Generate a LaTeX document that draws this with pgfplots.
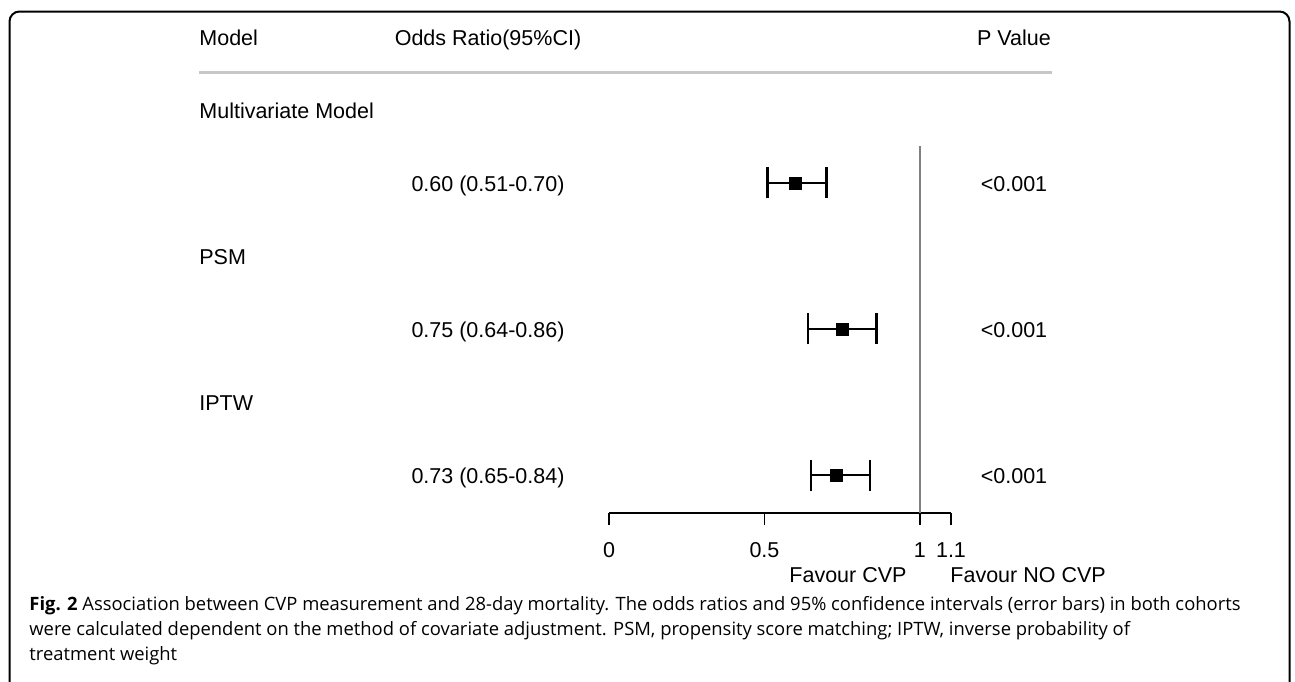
\documentclass[border=0pt]{standalone}
\usepackage{fontspec}
\setmainfont{Liberation Sans}
\newfontfamily\capfont{Open Sans}
\usepackage{pgfplots}
\usepackage{pgfplotstable}
\pgfplotsset{compat=1.18}

\pgfplotstableread{
y or em ep
3 0.60 0.09 0.10
2 0.75 0.11 0.11
1 0.73 0.08 0.11
}\ordata

\newcommand\tf{\fontsize{10.75}{13}\selectfont}
\newcommand\cf{\capfont\fontsize{9.2}{11}\selectfont}

\begin{document}
\begin{tikzpicture}[x=0.5pt,y=-0.5pt]
\useasboundingbox (0,0) rectangle (1295,681);
\clip (0,0) rectangle (1295,681);
\fill[white] (0,0) rectangle (1295,681);
\draw[line width=1pt, rounded corners=5pt] (9.5,11.5) rectangle (1289.5,720);

% header
\node[anchor=base west, inner sep=0, font=\tf] at (199,45) {Model};
\node[anchor=base, inner sep=0, font=\tf] at (488,45) {Odds Ratio(95\%CI)};
\node[anchor=base, inner sep=0, font=\tf] at (1014,45) {P Value};
\draw[black!22, line width=1.65pt] (199,72.7) -- (1052,72.7);

% group labels
\node[anchor=base west, inner sep=0, font=\tf] at (199,118) {Multivariate Model};
\node[anchor=base west, inner sep=0, font=\tf] at (199,264) {PSM};
\node[anchor=base west, inner sep=0, font=\tf] at (199,410) {IPTW};

% estimates
\node[anchor=base, inner sep=0, font=\tf] at (488,191) {0.60 (0.51-0.70)};
\node[anchor=base, inner sep=0, font=\tf] at (488,337) {0.75 (0.64-0.86)};
\node[anchor=base, inner sep=0, font=\tf] at (488,483) {0.73 (0.65-0.84)};

% p values
\node[anchor=base, inner sep=0, font=\tf] at (1014,191) {<0.001};
\node[anchor=base, inner sep=0, font=\tf] at (1014,337) {<0.001};
\node[anchor=base, inner sep=0, font=\tf] at (1014,483) {<0.001};

% favour labels
\node[anchor=base west, inner sep=0, font=\tf] at (789,582) {Favour CVP};
\node[anchor=base west, inner sep=0, font=\tf] at (950,582) {Favour NO CVP};

% caption
\node[anchor=base west, inner sep=0, font=\cf] at (29,610) {\textbf{Fig. 2} Association between CVP measurement and 28-day mortality. The odds ratios and 95\% confidence intervals (error bars) in both cohorts};
\node[anchor=base west, inner sep=0, font=\cf] at (29,635) {were calculated dependent on the method of covariate adjustment. PSM, propensity score matching; IPTW, inverse probability of};
\node[anchor=base west, inner sep=0, font=\cf] at (29,660) {treatment weight};

\begin{axis}[
  at={(304.5pt,-256.5pt)}, anchor=south west,
  scale only axis, width=171pt, height=183.5pt,
  xmin=0, xmax=1.1, ymin=0.74, ymax=3.253,
  axis x line*=bottom, hide y axis,
  x axis line style={black, line width=0.65pt, -},
  xtick={0,0.5,1,1.1},
  tick align=outside, major tick length=6pt,
  xtick style={black, line width=0.65pt},
  xticklabel style={font=\tf, /pgf/number format/assume math mode=true, anchor=base, yshift=-16pt},
  clip=false,
]
\addplot[gray, line width=0.65pt] coordinates {(1,0.74) (1,3.253)};
\addplot[black, only marks, mark=square*, mark size=3pt,
  error bars/.cd, x dir=both, x explicit,
  error bar style={line width=0.85pt},
  error mark options={rotate=90, mark size=7.75pt, line width=1.25pt}]
  table[x=or, y=y, x error plus=ep, x error minus=em] {\ordata};
\end{axis}
\end{tikzpicture}
\end{document}
